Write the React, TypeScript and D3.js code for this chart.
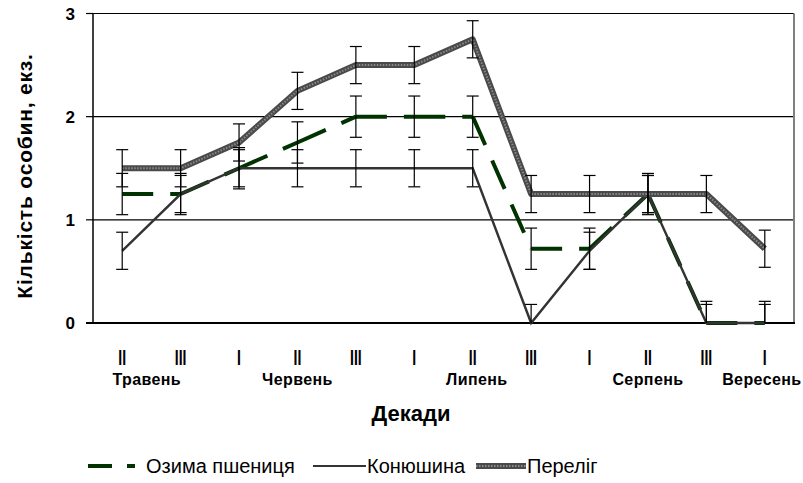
import React from "react";
import * as d3 from "d3";

const decades = ["II", "III", "I", "II", "III", "I", "II", "III", "I", "II", "III", "I"];
const months = ["Травень", "Червень", "Липень", "Серпень", "Вересень"];
const monthPos = [0.42, 3, 6.07, 9, 10.95];
const yTicks = [0, 1, 2, 3];

const wheat = [1.25, 1.25, 1.5, 1.75, 2.0, 2.0, 2.0, 0.72, 0.72, 1.25, 0, 0];
const wheatErr = [0.2, 0.2, 0.2, 0.2, 0.2, 0.2, 0.2, 0.2, 0.2, 0.2, 0.21, 0.21];
const clover = [0.7, 1.25, 1.5, 1.5, 1.5, 1.5, 1.5, 0, 0.7, 1.25, 0, 0];
const cloverErr = [0.18, 0.18, 0.18, 0.18, 0.18, 0.18, 0.18, 0.18, 0.18, 0.18, 0.18, 0.18];
const fallow = [1.5, 1.5, 1.75, 2.25, 2.5, 2.5, 2.75, 1.25, 1.25, 1.25, 1.25, 0.72];
const fallowErr = [0.18, 0.18, 0.18, 0.18, 0.18, 0.18, 0.18, 0.18, 0.18, 0.18, 0.18, 0.18];

const seriesNames = ["Озима пшениця", "Конюшина", "Переліг"];

const FONT = "'Liberation Sans', Arial, sans-serif";

export default function App() {
  const W = 803, H = 483;
  const left = 93, right = 794, top = 13.5, bottom = 323;
  const x = d3.scaleLinear().domain([0, decades.length]).range([left, right]);
  const y = d3.scaleLinear().domain([0, 3]).range([bottom, top]);
  const cx = (i: number) => x(i + 0.5);
  const line = d3.line<number>().x((_, i) => cx(i)).y((d) => y(d));

  const errBars = (vals: number[], errs: number[], key: string) =>
    vals.map((v, i) => {
      const lo = Math.max(0, v - errs[i]);
      const hi = Math.min(3, v + errs[i]);
      const xc = cx(i);
      return (
        <g key={key + i} stroke="#000" strokeWidth={1.2}>
          <line x1={xc} x2={xc} y1={y(lo)} y2={y(hi)} />
          <line x1={xc - 6} x2={xc + 6} y1={y(hi)} y2={y(hi)} />
          {v - errs[i] >= 0 && <line x1={xc - 6} x2={xc + 6} y1={y(lo)} y2={y(lo)} />}
        </g>
      );
    });

  const wheatSegs = wheat.slice(0, -1).map((v, i) => {
    const d = `M${cx(i)},${y(v)}L${cx(i + 1)},${y(wheat[i + 1])}`;
    return <path key={"ws" + i} d={d} fill="none" stroke="#003300" strokeWidth={4} strokeDasharray="31 17" />;
  });

  const legY = 466;

  return (
    <svg width={W} height={H} style={{ position: "absolute", left: 0, top: 0, background: "#fff" }} fontFamily={FONT}>
      <rect x={0} y={0} width={W} height={H} fill="#fff" />
      {yTicks.filter((t) => t > 0).map((t) => (
        <line key={"g" + t} x1={left} x2={right} y1={y(t)} y2={y(t)} stroke="#000" strokeWidth={1.2} />
      ))}
      <line x1={right} x2={right} y1={top} y2={bottom} stroke="#808080" strokeWidth={2} />
      <line x1={left} x2={left} y1={top} y2={bottom} stroke="#000" strokeWidth={1.5} />
      {yTicks.map((t) => (
        <g key={"yt" + t}>
          <line x1={left - 7} x2={left} y1={y(t)} y2={y(t)} stroke="#000" strokeWidth={1.2} />
          <text x={75} y={y(t) + 6} textAnchor="end" fontSize={17} fontWeight="bold">{t}</text>
        </g>
      ))}
      <line x1={left - 7} x2={right + 1} y1={bottom} y2={bottom} stroke="#000" strokeWidth={2.2} />

      {wheatSegs}
      <path d={line(clover) || ""} fill="none" stroke="#333333" strokeWidth={2.4} />
      <path d={line(fallow) || ""} fill="none" stroke="#4a4a4a" strokeWidth={6} strokeLinejoin="round" />
      <path d={line(fallow) || ""} fill="none" stroke="#8a8a8a" strokeWidth={2} strokeDasharray="1.5 1.5" />

      {errBars(wheat, wheatErr, "we")}
      {errBars(clover, cloverErr, "ce")}
      {errBars(fallow, fallowErr, "fe")}

      {decades.map((d, i) => (
        <text key={"dl" + i} transform={`translate(${cx(i)},364.5) scale(1,1.55)`} textAnchor="middle" fontSize={14} fontWeight="bold">{d}</text>
      ))}
      {months.map((m, i) => (
        <text key={"ml" + i} x={cx(monthPos[i])} y={385} textAnchor="middle" fontSize={16} fontWeight="bold" letterSpacing={0.4}>{m}</text>
      ))}
      <text x={411} y={421} textAnchor="middle" fontSize={22} fontWeight="bold">Декади</text>
      <text transform="translate(32,176) rotate(-90)" textAnchor="middle" fontSize={21} fontWeight="bold" letterSpacing={0.8}>Кількість особин, екз.</text>

      <path d={`M88,${legY}L135,${legY}`} stroke="#003300" strokeWidth={4} strokeDasharray="24 15" />
      <text x={146} y={legY + 7} fontSize={20}>{seriesNames[0]}</text>
      <line x1={313} x2={366} y1={legY} y2={legY} stroke="#333333" strokeWidth={2} />
      <text x={367} y={legY + 7} fontSize={20}>{seriesNames[1]}</text>
      <line x1={476} x2={526} y1={legY} y2={legY} stroke="#4a4a4a" strokeWidth={6} />
      <line x1={476} x2={526} y1={legY} y2={legY} stroke="#8a8a8a" strokeWidth={2} strokeDasharray="1.5 1.5" />
      <text x={527} y={legY + 7} fontSize={20}>{seriesNames[2]}</text>
    </svg>
  );
}
